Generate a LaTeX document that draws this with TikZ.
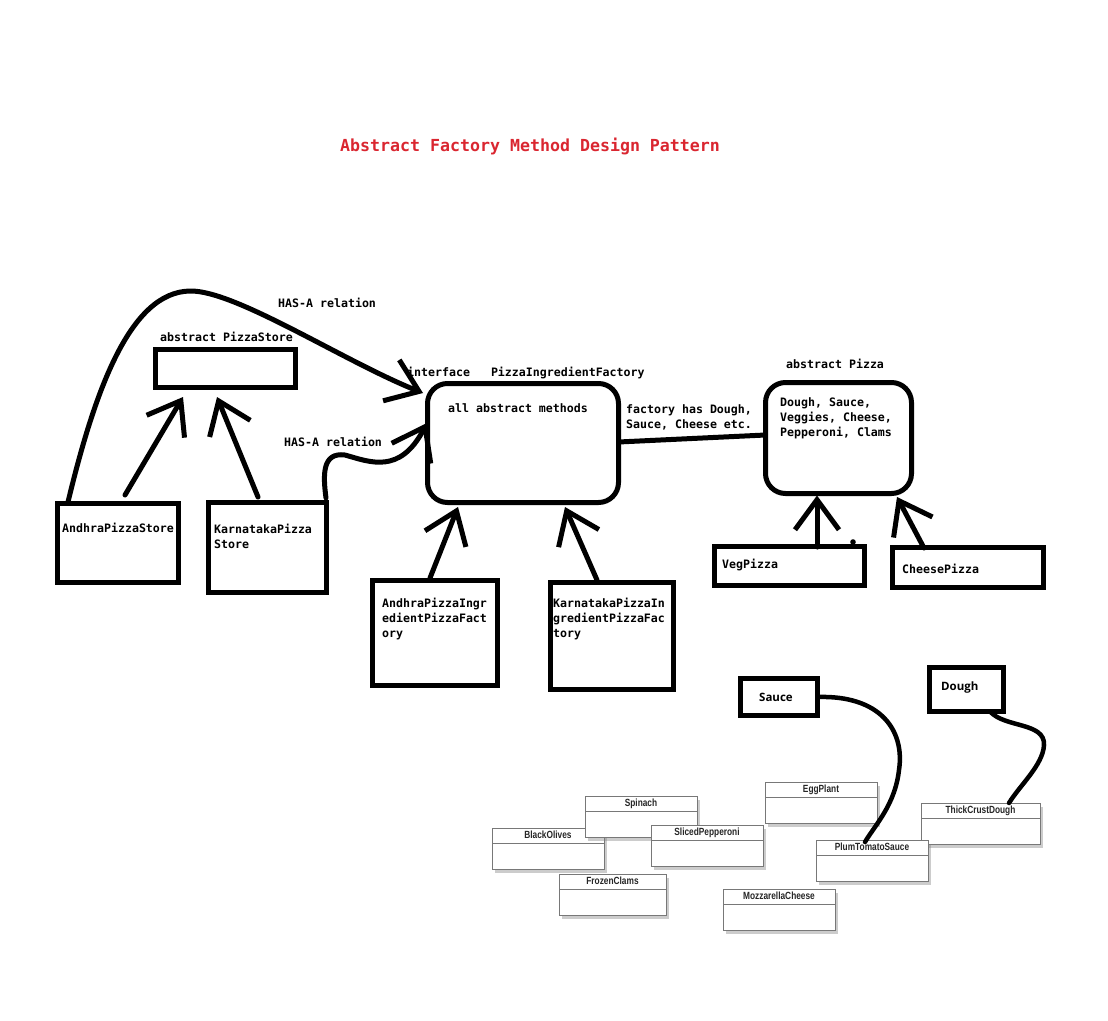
\documentclass[tikz,border=0pt]{standalone}
\usepackage{fontspec}
\setmonofont{DejaVu Sans Mono}
\newfontfamily\umlfont[FakeStretch=0.8]{Liberation Sans}
\newfontfamily\lblfont{Open Sans}
\usetikzlibrary{arrows.meta,calc,shadows}
\definecolor{titlered}{RGB}{218,38,48}
\definecolor{umlgray}{RGB}{120,120,120}
\newcommand\mlines[1]{\begin{tabular}[t]{@{}l@{}}#1\end{tabular}}
\newcommand\umlbox[5]{%
  \node[uml, minimum width=#4pt] (#1) at (#2,#3) {};
  \draw[umlgray, line width=0.9pt] ($(#1.north west)+(0,15)$) -- ($(#1.north east)+(0,15)$);
  \node[umltext] (#1-t) at ($(#1.north)+(0,10)$) {#5};
}
\begin{document}
\begin{tikzpicture}[x=1pt,y=-1pt,
  mono/.style={font=\ttfamily\bfseries\fontsize{11.6}{15}\selectfont, inner sep=0pt, anchor=base west},
  lbl/.style={font=\lblfont\bfseries\fontsize{11.5}{14}\selectfont, inner sep=0pt, anchor=base west},
  thickbox/.style={draw, line width=5pt, inner sep=0pt, outer sep=0pt, anchor=north west},
  roundbox/.style={thickbox, rounded corners=20pt},
  conn/.style={line width=5pt, line cap=round},
  inh/.style={conn, -{Straight Barb[length=30pt,width=44pt]}},
  uml/.style={draw=umlgray, line width=0.9pt, fill=white, inner sep=0pt, outer sep=0pt, anchor=north west, minimum height=41pt, drop shadow={shadow xshift=3pt,shadow yshift=-4pt,opacity=0.4}},
  umltext/.style={font=\umlfont\bfseries\fontsize{10.4}{12}\selectfont, text=black!85, inner sep=0pt, anchor=base},
]
\fill[white] (0,0) rectangle (1108,1020);
\useasboundingbox (0,0) rectangle (1108,1020);

% title
\node[font=\ttfamily\bfseries\fontsize{16.6}{20}\selectfont, text=titlered, anchor=base west, inner sep=0pt] (title) at (340,151) {Abstract Factory Method Design Pattern};

% boxes
\node[thickbox, minimum width=140pt, minimum height=38pt] (ps) at (155.5,349.5) {};
\node[thickbox, minimum width=121pt, minimum height=79pt] (aps) at (57.5,503.5) {};
\node[thickbox, minimum width=118pt, minimum height=90pt] (kps) at (208.5,502.5) {};
\node[roundbox, minimum width=191pt, minimum height=119pt] (pif) at (427.5,383.5) {};
\node[thickbox, minimum width=125pt, minimum height=105pt] (apf) at (372.5,580.5) {};
\node[thickbox, minimum width=123pt, minimum height=107pt] (kpf) at (550.5,582.5) {};
\node[roundbox, minimum width=146pt, minimum height=111pt] (pz) at (765.5,382.5) {};
\node[thickbox, minimum width=150pt, minimum height=39pt] (veg) at (714.5,546.5) {};
\node[thickbox, minimum width=151pt, minimum height=40pt] (chs) at (892.5,547.5) {};
\node[thickbox, minimum width=77pt, minimum height=37pt] (sauce) at (740.5,678.5) {};
\node[thickbox, minimum width=74pt, minimum height=44pt] (dough) at (929.5,667.5) {};

% texts
\node[mono] (hasa1) at (278,307) {HAS-A relation};
\node[mono] (lps) at (160,341) {abstract PizzaStore};
\node[mono] (lif) at (407,376) {interface\ \ \ PizzaIngredientFactory};
\node[mono] (lall) at (448,412) {all abstract methods};
\node[mono] (hasa2) at (284,446) {HAS-A relation};
\node[mono] (taps) at (62,532) {AndhraPizzaStore};
\node[mono] (tkps) at (214,533) {\mlines{KarnatakaPizza\\Store}};
\node[mono] (lfac) at (626,413) {\mlines{factory has Dough,\\Sauce, Cheese etc.}};
\node[mono] (tapf) at (382,607) {\mlines{AndhraPizzaIngr\\edientPizzaFact\\ory}};
\node[mono] (tkpf) at (553,607) {\mlines{KarnatakaPizzaIn\\gredientPizzaFac\\tory}};
\node[mono] (lpz) at (786,368) {abstract Pizza};
\node[mono] (tpz) at (780,406) {\mlines{Dough, Sauce,\\Veggies, Cheese,\\Pepperoni, Clams}};
\node[mono] (tveg) at (722,568) {VegPizza};
\node[mono] (tchs) at (902,573) {CheesePizza};
\node[lbl] (tsauce) at (759,701) {Sauce};
\node[lbl] (tdough) at (941,690) {Dough};

% inheritance arrows
\draw[inh] ($(aps.north west)+(67.5,-8.5)$) -- ($(ps.north west)+(27.5,47.5)$);
\draw[inh] ($(kps.north west)+(49.5,-5.5)$) -- ($(ps.north west)+(61.5,47.5)$);
\draw[inh] ($(apf.north west)+(57.5,-2.5)$) -- ($(pif.north west)+(30.5,123.5)$);
\draw[inh] ($(kpf.north west)+(46.5,-2.5)$) -- ($(pif.north west)+(137.5,123.5)$);
\draw[inh] ($(veg.north west)+(102.5,0.5)$) -- ($(pz.north west)+(51.5,113)$);
\draw[inh] ($(chs.north west)+(31.5,0.5)$) -- ($(pz.north west)+(131.5,114.5)$);
\fill ($(veg.north west)+(138.5,-4.5)$) circle (2.8pt);

% HAS-A curves
\draw[inh] ($(aps.north west)+(10.5,-1.5)$) .. controls (95,390) and (130,292) .. (190,291)
  .. controls (235,290) and (345,362) .. ($(pif.north west)+(-4.5,9.5)$);
\draw[inh] ($(kps.north west)+(117.5,-4.5)$) .. controls (323,475) and (322,452) .. (345,455)
  .. controls (370,462) and (400,475) .. ($(pif.north west)+(-0.5,39.5)$);

% association
\draw[conn] ($(pif.east)+(0,-1)$) -- ($(pz.west)+(0,-3)$);

% ingredient classes
\umlbox{blackolives}{492}{828}{112}{BlackOlives}
\umlbox{spinach}{585}{796}{112}{Spinach}
\umlbox{sliced}{651}{825}{112}{SlicedPepperoni}
\umlbox{eggplant}{765}{782}{112}{EggPlant}
\umlbox{frozen}{559}{874}{107}{FrozenClams}
\umlbox{mozz}{723}{889}{112}{MozzarellaCheese}
\umlbox{thick}{921}{803}{119}{ThickCrustDough}
\umlbox{plum}{816}{840}{112}{PlumTomatoSauce}

% links to concrete ingredients
\draw[conn, line width=4.5pt] (sauce.east) .. controls (880,695) and (905,730) .. (899,770)
  .. controls (895,805) and (875,825) .. ($(plum.north west)+(49,2)$);
\draw[conn, line width=4.5pt] ($(dough.south west)+(60.5,0)$) .. controls (1005,728) and (1045,722) .. (1044,745)
  .. controls (1043,765) and (1020,785) .. ($(thick.north west)+(88,0)$);
\end{tikzpicture}
\end{document}
